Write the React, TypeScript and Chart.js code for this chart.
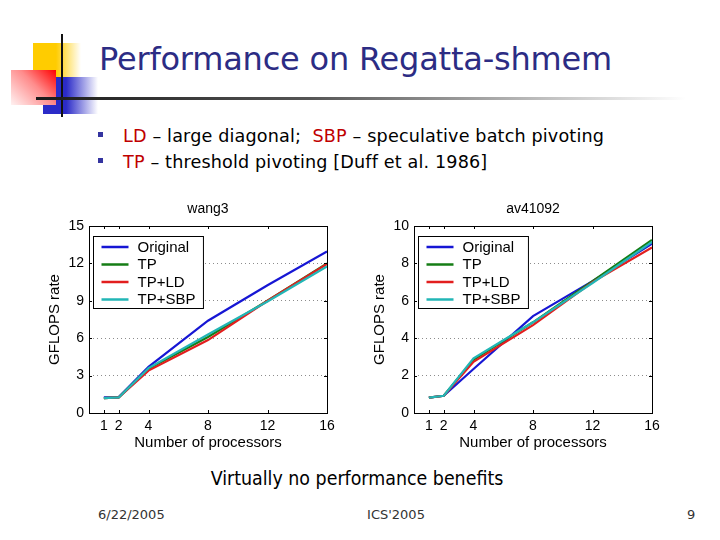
import React, { useEffect, useRef } from "react";
import { Chart, registerables } from "chart.js";

Chart.register(...registerables);

// ---------- data ----------
const processors = [1, 2, 4, 8, 12, 16];
const xTickValues = [1, 2, 4, 8, 12, 16];
const seriesNames = ["Original", "TP", "TP+LD", "TP+SBP"];
const seriesColors = ["#1616d4", "#157d15", "#e21e1e", "#22b6b6"];

const wang3YTicks = [0, 3, 6, 9, 12, 15];
const wang3Original = [1.25, 1.28, 3.7, 7.4, 10.25, 12.95];
const wang3TP = [1.2, 1.25, 3.55, 6.1, 9.0, 12.0];
const wang3TPLD = [1.2, 1.25, 3.4, 5.85, 9.0, 11.95];
const wang3TPSBP = [1.2, 1.25, 3.6, 6.3, 8.95, 11.75];

const avYTicks = [0, 2, 4, 6, 8, 10];
const avOriginal = [0.82, 0.92, 2.35, 5.18, 7.05, 9.05];
const avTP = [0.82, 0.92, 2.85, 4.85, 7.05, 9.25];
const avTPLD = [0.82, 0.92, 2.74, 4.7, 7.0, 8.85];
const avTPSBP = [0.82, 0.92, 2.92, 4.85, 6.95, 9.15];

const CHART_FONT = '"Liberation Sans", Arial, sans-serif';
const SLIDE_FONT = '"DejaVu Sans", sans-serif';
const SLIDE_FONT_COND = '"DejaVu Sans Condensed", "DejaVu Sans", sans-serif';

function makeDecorPlugin(title: string) {
  return {
    id: "panelDecor",
    afterDatasetsDraw(chart: any) {
      const { ctx, chartArea } = chart;
      const { left, right, top, bottom } = chartArea;
      const xs = chart.scales.x;
      const ys = chart.scales.y;
      ctx.save();
      // frame
      ctx.strokeStyle = "#000";
      ctx.lineWidth = 1;
      ctx.strokeRect(Math.round(left) + 0.5, Math.round(top) + 0.5, Math.round(right - left), Math.round(bottom - top));
      // inward ticks
      ctx.beginPath();
      xs.ticks.forEach((t: any) => {
        const px = Math.round(xs.getPixelForValue(t.value)) + 0.5;
        ctx.moveTo(px, bottom);
        ctx.lineTo(px, bottom - 3);
        ctx.moveTo(px, top);
        ctx.lineTo(px, top + 3);
      });
      ys.ticks.forEach((t: any) => {
        const py = Math.round(ys.getPixelForValue(t.value)) + 0.5;
        ctx.moveTo(left, py);
        ctx.lineTo(left + 3, py);
        ctx.moveTo(right, py);
        ctx.lineTo(right - 3, py);
      });
      ctx.stroke();
      // title
      ctx.fillStyle = "#000";
      ctx.font = `14px ${CHART_FONT}`;
      ctx.textAlign = "center";
      ctx.textBaseline = "middle";
      ctx.fillText(title, (left + right) / 2, top - 17);
      // legend
      ctx.font = `15px ${CHART_FONT}`;
      const ds = chart.data.datasets;
      let maxW = 0;
      ds.forEach((d: any) => {
        maxW = Math.max(maxW, ctx.measureText(d.label).width);
      });
      const bx = Math.round(left + 3.5) + 0.5;
      const by = Math.round(top + 10) + 0.5;
      const rowH = 17.5;
      const bw = 44 + maxW + 8;
      const bh = rowH * ds.length + 2;
      ctx.fillStyle = "#fff";
      ctx.fillRect(bx, by, bw, bh);
      ctx.strokeStyle = "#000";
      ctx.lineWidth = 1;
      ctx.strokeRect(bx, by, bw, bh);
      ds.forEach((d: any, i: number) => {
        const cy = by + 10.5 + i * rowH;
        ctx.strokeStyle = d.borderColor;
        ctx.lineWidth = 2.5;
        ctx.beginPath();
        ctx.moveTo(bx + 8, cy);
        ctx.lineTo(bx + 35, cy);
        ctx.stroke();
        ctx.fillStyle = "#000";
        ctx.textAlign = "left";
        ctx.textBaseline = "middle";
        ctx.fillText(d.label, bx + 44, cy + 0.5);
      });
      ctx.restore();
    },
  };
}

function Panel(props: { left: number; title: string; yTicks: number[]; series: number[][] }) {
  const ref = useRef<HTMLCanvasElement>(null);
  useEffect(() => {
    const { title, yTicks, series } = props;
    const yMax = yTicks[yTicks.length - 1];
    const datasets = series.map((vals, i) => ({
      label: seriesNames[i],
      data: vals.map((v, k) => ({ x: processors[k], y: v })),
      borderColor: seriesColors[i],
      backgroundColor: seriesColors[i],
      borderWidth: 2.2,
      pointRadius: 0,
      tension: 0,
      order: series.length - i,
    }));
    const chart = new Chart(ref.current as HTMLCanvasElement, {
      type: "line",
      data: { datasets },
      options: {
        animation: false,
        responsive: false,
        layout: { padding: { top: 31, right: 13, bottom: 0, left: 0 } },
        plugins: { legend: { display: false }, tooltip: { enabled: false }, title: { display: false } },
        scales: {
          x: {
            type: "linear",
            min: 0,
            max: 16,
            afterBuildTicks: (s: any) => {
              s.ticks = xTickValues.map((v) => ({ value: v }));
            },
            afterFit: (s: any) => {
              s.height = 44;
            },
            grid: { display: false, drawTicks: false },
            border: { display: false },
            ticks: {
              autoSkip: false,
              maxRotation: 0,
              padding: 5,
              color: "#000",
              font: { family: CHART_FONT, size: 14 },
            },
            title: {
              display: true,
              text: "Number of processors",
              color: "#000",
              font: { family: CHART_FONT, size: 15 },
              padding: { top: 0, bottom: 5 },
            },
          },
          y: {
            type: "linear",
            min: 0,
            max: yMax,
            afterBuildTicks: (s: any) => {
              s.ticks = yTicks.map((v) => ({ value: v }));
            },
            afterFit: (s: any) => {
              s.width = 49;
            },
            grid: {
              drawTicks: false,
              lineWidth: 1,
              color: (c: any) => (c.tick && c.tick.value > 0 && c.tick.value < yMax ? "#8c8c8c" : "rgba(0,0,0,0)"),
            },
            border: { display: false, dash: [1, 3] },
            ticks: {
              padding: 5,
              color: "#000",
              font: { family: CHART_FONT, size: 14 },
            },
            title: {
              display: true,
              text: "GFLOPS rate",
              color: "#000",
              font: { family: CHART_FONT, size: 15 },
              padding: { top: 6, bottom: 0 },
            },
          },
        },
      } as any,
      plugins: [makeDecorPlugin(title)],
    });
    return () => chart.destroy();
  }, []);
  return (
    <canvas
      ref={ref}
      width={300}
      height={262}
      style={{ position: "absolute", left: props.left, top: 195, width: 300, height: 262 }}
    />
  );
}

const abs = (s: React.CSSProperties): React.CSSProperties => ({ position: "absolute", ...s });

export default function App() {
  return (
    <div
      style={{
        position: "fixed",
        left: 0,
        top: 0,
        width: 720,
        height: 540,
        background: "#fff",
        overflow: "hidden",
        fontFamily: SLIDE_FONT,
      }}
    >
      {/* decoration */}
      <div style={abs({ left: 33, top: 43, width: 48, height: 34, background: "linear-gradient(to right, #ffcc00 0%, #ffcc00 48%, rgba(255,204,0,0) 100%)" })} />
      <div style={abs({ left: 43, top: 77, width: 55, height: 37, background: "linear-gradient(to right, #2b2bc8 0%, #2b2bc8 42%, rgba(43,43,200,0) 100%)" })} />
      <div style={abs({ left: 11, top: 70, width: 45, height: 35, background: "linear-gradient(225deg, #ff0000 0%, #ff8c8c 45%, #fff2f2 100%)" })} />
      <div style={abs({ left: 61, top: 34, width: 2, height: 83, background: "#111" })} />
      <div style={abs({ left: 36, top: 97, width: 684, height: 3, background: "linear-gradient(to right, #1a1a1a 0%, #555 40%, #fff 95%)" })} />

      {/* title */}
      <div style={abs({ left: 99, top: 43, fontSize: 32, lineHeight: "33px", letterSpacing: "-0.2px", color: "#2c2c84", whiteSpace: "nowrap" })}>
        Performance on Regatta-shmem
      </div>

      {/* bullets */}
      <div style={abs({ left: 98, top: 132, width: 5, height: 5, background: "#3434a0" })} />
      <div style={abs({ left: 98, top: 158, width: 5, height: 5, background: "#3434a0" })} />
      <div style={abs({ left: 123, top: 128, fontSize: 17.6, lineHeight: "17px", letterSpacing: "0.15px", color: "#000", whiteSpace: "pre" })}>
        <span style={{ color: "#c00000" }}>LD</span> – large diagonal;  <span style={{ color: "#c00000" }}>SBP</span> – speculative batch pivoting
      </div>
      <div style={abs({ left: 123, top: 154, fontSize: 17.6, lineHeight: "17px", letterSpacing: "0.15px", color: "#000", whiteSpace: "pre" })}>
        <span style={{ color: "#c00000" }}>TP</span> – threshold pivoting [Duff et al. 1986]
      </div>

      {/* charts */}
      <Panel left={40} title="wang3" yTicks={wang3YTicks} series={[wang3Original, wang3TP, wang3TPLD, wang3TPSBP]} />
      <Panel left={365} title="av41092" yTicks={avYTicks} series={[avOriginal, avTP, avTPLD, avTPSBP]} />

      {/* caption */}
      <div style={abs({ left: 0, width: 714, top: 469, fontSize: 19.4, lineHeight: "19px", color: "#000", textAlign: "center", whiteSpace: "nowrap", fontFamily: SLIDE_FONT_COND })}>
        Virtually no performance benefits
      </div>

      {/* footer */}
      <div style={abs({ left: 98, top: 508, fontSize: 13, lineHeight: "13px", color: "#333" })}>6/22/2005</div>
      <div style={abs({ left: 296, width: 200, top: 508, fontSize: 13, lineHeight: "13px", color: "#333", textAlign: "center" })}>ICS'2005</div>
      <div style={abs({ left: 687, top: 508, fontSize: 13, lineHeight: "13px", color: "#333" })}>9</div>
    </div>
  );
}
